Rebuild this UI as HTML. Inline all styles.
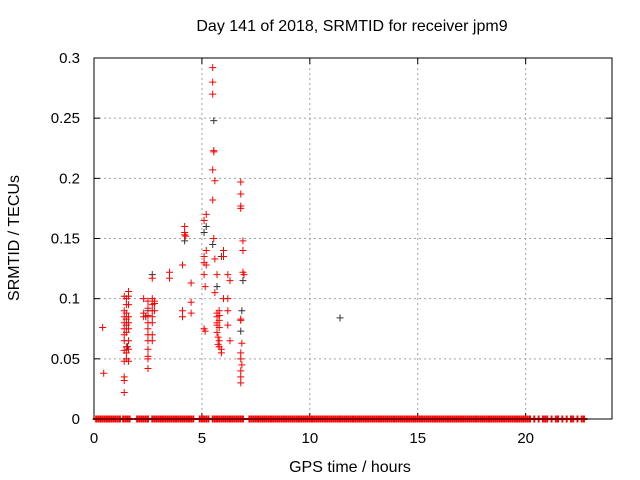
<!DOCTYPE html>
<html><head><meta charset="utf-8"><style>
body{margin:0;background:#fff}
svg{display:block;font-family:"Liberation Sans",sans-serif}
</style></head><body>
<svg id="c" width="640" height="480">
<text x="352" y="31" font-size="16" text-anchor="middle">Day 141 of 2018, SRMTID for receiver jpm9</text>
<text x="350" y="472" font-size="16" text-anchor="middle">GPS time / hours</text>
<text transform="translate(19,238) rotate(-90)" font-size="16" text-anchor="middle">SRMTID / TECUs</text>
<g id="grid"></g><g id="pts"></g>
<rect x="94" y="58" width="518" height="361" fill="none" stroke="#000"/>
</svg>
<script>
const xTicks=[0,5,10,15,20];
const yTicks=[0,0.05,0.1,0.15,0.2,0.25,0.3];
const yTickLabels=["0","0.05","0.1","0.15","0.2","0.25","0.3"];
const redX=[0.4,0.45,1.4,1.4,1.4,1.4,1.4,1.4,1.4,1.4,1.4,1.4,1.4,1.4,1.5,1.5,1.5,1.5,1.5,1.5,1.5,1.5,1.5,1.6,1.6,1.6,1.6,1.6,1.6,1.6,1.6,1.6,2.3,2.3,2.3,2.5,2.5,2.5,2.5,2.5,2.5,2.5,2.5,2.5,2.5,2.5,2.7,2.7,2.7,2.7,2.7,2.7,2.7,2.7,2.8,2.8,2.8,3.5,3.5,4.1,4.1,4.1,4.2,4.2,4.2,4.25,4.5,4.5,4.5,5.1,5.1,5.1,5.1,5.1,5.15,5.15,5.2,5.2,5.2,5.5,5.5,5.5,5.55,5.55,5.5,5.6,5.5,5.55,5.6,5.6,5.7,5.7,5.7,5.7,5.7,5.7,5.75,5.75,5.8,5.8,5.8,5.8,5.8,5.8,5.9,5.9,6.0,6.0,6.0,6.2,6.2,6.2,6.3,6.2,6.3,6.8,6.8,6.8,6.8,6.9,6.9,6.9,6.95,6.8,6.85,6.8,6.8,6.85,6.8,6.8,6.8,6.8];
const redY=[0.076,0.038,0.102,0.09,0.085,0.08,0.075,0.07,0.065,0.057,0.048,0.035,0.032,0.022,0.1,0.095,0.088,0.083,0.078,0.072,0.06,0.055,0.05,0.106,0.102,0.095,0.085,0.08,0.075,0.065,0.058,0.048,0.1,0.088,0.085,0.098,0.092,0.086,0.08,0.075,0.07,0.065,0.058,0.052,0.05,0.042,0.117,0.1,0.095,0.09,0.085,0.08,0.07,0.065,0.098,0.096,0.09,0.122,0.117,0.128,0.09,0.085,0.155,0.16,0.153,0.152,0.113,0.097,0.088,0.165,0.135,0.13,0.12,0.075,0.11,0.073,0.17,0.14,0.128,0.292,0.28,0.27,0.222,0.223,0.207,0.198,0.182,0.15,0.133,0.105,0.12,0.088,0.085,0.08,0.078,0.072,0.068,0.062,0.09,0.086,0.082,0.076,0.065,0.06,0.058,0.055,0.14,0.135,0.1,0.12,0.1,0.09,0.115,0.078,0.065,0.197,0.187,0.177,0.175,0.148,0.14,0.122,0.12,0.082,0.063,0.055,0.05,0.045,0.04,0.035,0.03,0.083];
const blackX=[5.55,5.1,5.2,2.7,2.5,6.9,6.85,6.8,4.2,5.5,5.7,5.9,11.4,1.55,2.4];
const blackY=[0.248,0.155,0.16,0.12,0.09,0.115,0.09,0.073,0.148,0.145,0.11,0.135,0.084,0.06,0.085];
const zeroX=[0.1,0.2,0.3,0.4,0.5,0.6,0.7,0.8,0.9,1.0,1.1,1.2,1.35,1.45,1.55,1.65,
2.0,2.1,2.2,2.3,2.4,2.5,2.7,2.8,2.9,3.0,3.1,3.2,3.3,3.4,3.5,3.6,3.7,3.8,3.9,4.0,4.1,4.2,4.3,4.4,4.5,4.6,
4.9,5.0,5.1,5.2,5.3,5.5,5.6,5.7,5.8,5.9,6.0,6.1,6.2,6.3,6.4,6.5,6.6,6.7,6.8,6.9,
7.2,7.3,7.4,7.5,7.6,7.7,7.8,7.9,8.0,8.1,8.2,8.3,8.4,8.5,8.6,8.7,8.8,8.9,9.0,9.1,9.2,9.3,9.4,9.5,9.6,9.7,9.8,9.9,
10.0,10.1,10.2,10.3,10.4,10.5,10.6,10.7,10.8,10.9,11.0,11.1,11.2,11.3,11.4,11.5,11.6,11.7,11.8,11.9,
12.0,12.1,12.2,12.3,12.4,12.5,12.6,12.7,12.8,12.9,13.0,13.1,13.2,13.3,13.4,13.5,13.6,13.7,13.8,13.9,
14.0,14.1,14.2,14.3,14.4,14.5,14.6,14.7,14.8,14.9,15.0,15.1,15.2,15.3,15.4,15.5,15.6,15.7,15.8,15.9,
16.0,16.1,16.2,16.3,16.4,16.5,16.6,16.7,16.8,16.9,17.0,17.1,17.2,17.3,17.4,17.5,17.6,17.7,17.8,17.9,
18.0,18.1,18.2,18.3,18.4,18.5,18.6,18.7,18.8,18.9,19.0,19.1,19.2,19.3,19.4,19.5,19.6,19.7,19.8,19.9,
20.0,20.1,20.2,20.4,20.6,20.8,20.9,21.0,21.2,21.4,21.5,21.7,21.9,22.1,22.2,22.4,22.6,22.7];
const X=v=>94+v*518/24, Y=v=>419-v*361/0.3;
const ns="http://www.w3.org/2000/svg";
const g=document.getElementById('grid'), p=document.getElementById('pts');
function mk(tag,a,par){const e=document.createElementNS(ns,tag);for(const k in a)e.setAttribute(k,a[k]);par.appendChild(e);return e;}
xTicks.forEach(t=>{const x=X(t);
 const l=mk('line',{x1:x,x2:x,y1:58,y2:419,stroke:'#a0a0a0','stroke-dasharray':'2,3'},g);
 
 
 mk('line',{x1:x,x2:x,y1:419,y2:413,stroke:'#000'},g);mk('line',{x1:x,x2:x,y1:58,y2:64,stroke:'#000'},g);
 const tx=mk('text',{x:x,y:443,'font-size':15,'text-anchor':'middle'},g);tx.textContent=t;
 
 });
yTicks.forEach((t,i)=>{const y=Y(t);
 if(i>0&&i<yTicks.length-1){const l=mk('line',{x1:94,x2:612,y1:y,y2:y,stroke:'#a0a0a0','stroke-dasharray':'2,3'},g);
 
 }
 mk('line',{x1:94,x2:100,y1:y,y2:y,stroke:'#000'},g);mk('line',{x1:612,x2:606,y1:y,y2:y,stroke:'#000'},g);
 const tx=mk('text',{x:80,y:y+5,'font-size':15,'text-anchor':'end'},g);tx.textContent=yTickLabels[i];
 
 });
function cross(x,y,c,name,sw){const e=mk('path',{d:`M${x-3.5},${y}h7M${x},${y-3.5}v7`,stroke:c,'stroke-width':sw},p);
 
 }
zeroX.forEach(v=>cross(X(v),Y(0),'#f00','zero-point',2));
blackX.forEach((v,i)=>cross(X(v),Y(blackY[i]),'#333','black-point',1));
redX.forEach((v,i)=>cross(X(v),Y(redY[i]),'#f00','red-point',1));
</script>
</body></html>
